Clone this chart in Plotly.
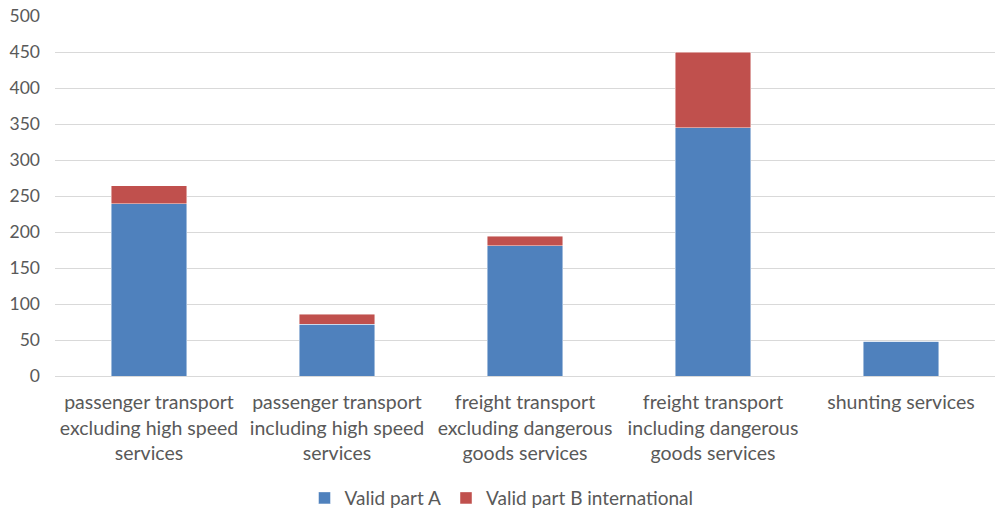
import plotly.graph_objects as go

categories = [
    "passenger transport<br>excluding high speed<br>services",
    "passenger transport<br>including high speed<br>services",
    "freight transport<br>excluding dangerous<br>goods services",
    "freight transport<br>including dangerous<br>goods services",
    "shunting services",
]
part_a = [239, 72, 181, 345, 48]
part_b_international = [25, 14, 13, 105, 0]

font_family = "Lato, 'Open Sans', sans-serif"
text_color = "#595959"

fig = go.Figure()
fig.add_trace(go.Bar(
    x=categories, y=part_a, name="Valid part A",
    marker=dict(color="#4f81bd", line=dict(color="rgba(255,255,255,0.6)", width=0.75)),
))
fig.add_trace(go.Bar(
    x=categories, y=part_b_international, name="Valid part B international",
    marker=dict(color="#c0504d", line=dict(color="rgba(255,255,255,0.6)", width=0.75)),
))

fig.update_layout(
    barmode="stack",
    bargap=0.6,
    width=996, height=511,
    margin=dict(l=55, r=1, t=16, b=135, autoexpand=False),
    paper_bgcolor="white", plot_bgcolor="white",
    font=dict(family=font_family, size=19, color=text_color),
    legend=dict(orientation="h", x=0.475, xanchor="center", y=-0.339, yanchor="middle",
                font=dict(size=19, color=text_color), itemwidth=30, traceorder="normal"),
    showlegend=True,
)
fig.update_xaxes(showgrid=False, showline=True, linecolor="#d9d9d9", linewidth=1,
                 tickfont=dict(size=19.5, color=text_color), ticks="", automargin=False,
                 ticklabelstandoff=9)
fig.update_yaxes(range=[0, 500], dtick=50, showgrid=True, gridcolor="#d9d9d9", gridwidth=1,
                 zeroline=False, showline=False, tickfont=dict(size=17.5, color=text_color),
                 ticklabelstandoff=14, automargin=False)

fig.write_html("out.html")
